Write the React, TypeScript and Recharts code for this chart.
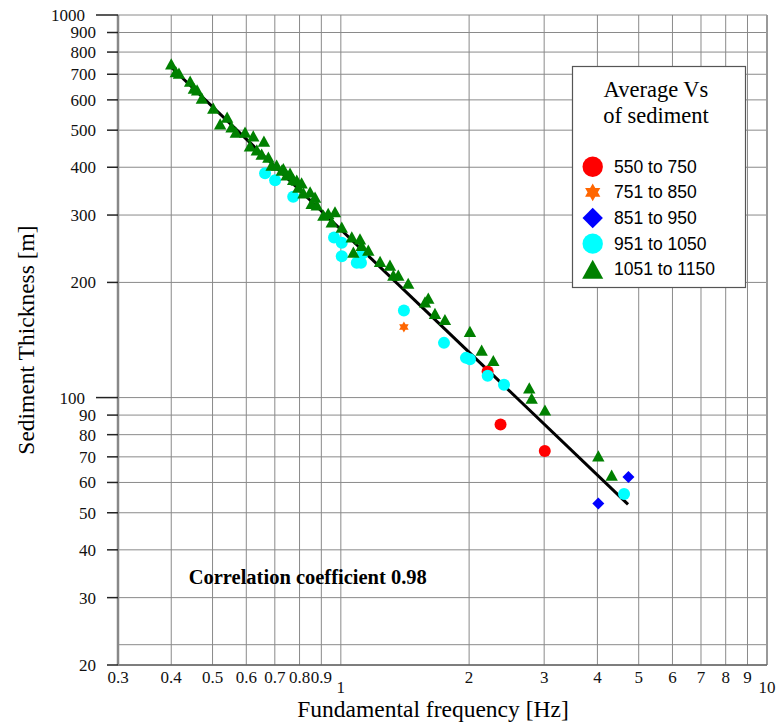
import React from 'react';
import { ScatterChart, Scatter, XAxis, YAxis, CartesianGrid, ReferenceLine } from 'recharts';

// axis ticks (log-log)
const xTicks = [0.3, 0.4, 0.5, 0.6, 0.7, 0.8, 0.9, 1, 2, 3, 4, 5, 6, 7, 8, 9, 10];
const yTicks = [20, 30, 40, 50, 60, 70, 80, 90, 100, 200, 300, 400, 500, 600, 700, 800, 900, 1000];

// f = fundamental frequency [Hz], h = sediment thickness [m]
const redF = [2.21, 2.37, 3.01];
const redH = [117, 85, 72.5];

const orangeF = [1.406];
const orangeH = [153];

const blueF = [4.73, 4.02];
const blueH = [62, 52.9];

const cyanF = [0.664, 0.701, 0.773, 0.964, 1.005, 1.005, 1.09, 1.115, 1.124, 1.406, 1.746, 1.966, 2.009, 2.211, 2.415, 4.62];
const cyanH = [386, 370, 335, 262, 254, 234, 225, 225, 238, 169, 139, 127, 126, 114, 108, 56];

const greenF = [
  0.4, 0.41, 0.417, 0.443, 0.452, 0.46, 0.472, 0.502, 0.521, 0.541, 0.554, 0.567, 0.596, 0.612, 0.623,
  0.635, 0.652, 0.66, 0.676, 0.688, 0.707, 0.727, 0.733, 0.746, 0.76, 0.773, 0.788, 0.809, 0.795, 0.817,
  0.847, 0.854, 0.87, 0.878, 0.91, 0.934, 0.969, 0.952, 1.005, 1.061, 1.109, 1.07, 1.119, 1.16, 1.236,
  1.304, 1.328, 1.364, 1.439, 1.576, 1.604, 1.663, 1.755, 2.009, 2.14, 2.279, 2.768, 2.804, 3.013, 4.02, 4.32,
];
const greenH = [
  745, 711, 705, 672, 644, 637, 606, 571, 519, 541, 510, 494, 494, 455, 483,
  444, 433, 468, 425, 405, 405, 393, 397, 382, 386, 372, 370, 364, 355, 343,
  345, 322, 334, 319, 300, 303, 306, 288, 279, 263, 260, 240, 250, 243, 227,
  222, 209, 209, 199, 178, 182, 166, 160, 149, 133, 125, 106, 99.6, 92.8, 70.4, 62.7,
];

// regression line end points
const fitF = [0.4, 4.72];
const fitH = [730, 52.6];

const seriesNames = ['550 to 750', '751 to 850', '851 to 950', '951 to 1050', '1051 to 1150'];
const seriesKinds = ['circle', 'star', 'diamond', 'circle', 'triangle'];
const seriesColors = ['#ff0000', '#ff6600', '#0000ff', '#00ffff', '#008000'];

const zip = (f: number[], h: number[]) => f.map((v, i) => ({ f: v, h: h[i] }));

const SERIF = '"Liberation Serif", "Times New Roman", serif';
const SANS = '"Liberation Sans", Arial, sans-serif';

const marker = (kind: string, color: string, cx: number, cy: number, s: number) => {
  if (kind === 'circle') return <circle cx={cx} cy={cy} r={6 * s} fill={color} />;
  if (kind === 'diamond') {
    const w = 6 * s;
    return <path d={`M${cx},${cy - w} L${cx + w},${cy} L${cx},${cy + w} L${cx - w},${cy} Z`} fill={color} />;
  }
  if (kind === 'triangle') {
    const w = 6.2 * s;
    const h = 5.6 * s;
    return <path d={`M${cx},${cy - h} L${cx + w},${cy + h} L${cx - w},${cy + h} Z`} fill={color} />;
  }
  // six pointed star
  const pts: string[] = [];
  for (let i = 0; i < 12; i++) {
    const r = i % 2 === 0 ? 5.5 * s : 3.2 * s;
    const a = -Math.PI / 2 + (i * Math.PI) / 6;
    pts.push(`${cx + r * Math.cos(a)},${cy + r * Math.sin(a)}`);
  }
  return <polygon points={pts.join(' ')} fill={color} />;
};

const YTick = (props: any) => {
  const { x, y, payload } = props;
  const major = payload.value === 100 || payload.value === 1000;
  const len = major ? 22 : 11;
  return (
    <g>
      <line x1={x - len} x2={x} y1={y} y2={y} stroke="#222" strokeWidth={1.5} />
      <text x={x - len - 11} y={y} dy="0.35em" textAnchor="end" fontFamily={SERIF} fontSize={17} fill="#111">
        {payload.value}
      </text>
    </g>
  );
};

const XTick = (props: any) => {
  const { x, y, payload } = props;
  const low = payload.value === 1 || payload.value === 10;
  return (
    <text x={x} y={y + (low ? 28 : 18)} textAnchor="middle" fontFamily={SERIF} fontSize={17} fill="#111">
      {payload.value}
    </text>
  );
};

const shapeOf = (i: number) => (p: any) => marker(seriesKinds[i], seriesColors[i], p.cx, p.cy, 1);

export default function App() {
  const series = [zip(redF, redH), zip(orangeF, orangeH), zip(blueF, blueH), zip(cyanF, cyanH), zip(greenF, greenH)];

  return (
    <div style={{ position: 'fixed', left: 0, top: 0, width: 778, height: 725, background: '#fff' }}>
      <ScatterChart width={778} height={725} margin={{ top: 15, right: 11, left: 0, bottom: 0 }}>
        <CartesianGrid stroke="#8a8a8a" strokeWidth={1} />
        <XAxis
          type="number"
          dataKey="f"
          scale="log"
          domain={[0.3, 10]}
          ticks={xTicks}
          interval={0}
          allowDataOverflow
          height={60}
          tickSize={0}
          tickMargin={0}
          tick={<XTick />}
          axisLine={{ stroke: '#666', strokeWidth: 1.5 }}
        />
        <YAxis
          type="number"
          dataKey="h"
          scale="log"
          domain={[20, 1000]}
          ticks={yTicks}
          interval={0}
          allowDataOverflow
          width={118}
          tickSize={0}
          tickMargin={0}
          tick={<YTick />}
          axisLine={{ stroke: '#888', strokeWidth: 2.5 }}
        />
        <ReferenceLine y={22.6} stroke="#8a8a8a" />
        <ReferenceLine x={10} stroke="#999" strokeWidth={2} />
        <Scatter
          data={zip(fitF, fitH)}
          line={{ stroke: '#000', strokeWidth: 3 }}
          shape={() => <g />}
          isAnimationActive={false}
        />
        {series.map((d, i) => (
          <Scatter key={i} name={seriesNames[i]} data={d} shape={shapeOf(i)} isAnimationActive={false} />
        ))}
      </ScatterChart>

      <svg width={778} height={725} style={{ position: 'absolute', left: 0, top: 0, pointerEvents: 'none' }}>
        <text x={188.7} y={584} fontFamily={SERIF} fontWeight="bold" fontSize={20.5} fill="#000">
          Correlation coefficient 0.98
        </text>
        <text x={433} y={717} textAnchor="middle" fontFamily={SERIF} fontSize={23.5} fill="#000">
          Fundamental frequency [Hz]
        </text>
        <text
          transform="translate(33.5,340) rotate(-90)"
          textAnchor="middle"
          fontFamily={SERIF}
          fontSize={23.5}
          fill="#000"
        >
          Sediment Thickness [m]
        </text>

        <g transform="translate(572,66)">
          <rect x={0.5} y={0.5} width={173} height={221} fill="#fff" stroke="#555" strokeWidth={1.2} />
          <text x={84} y={31} textAnchor="middle" fontFamily={SERIF} fontSize={22.5} fill="#000">
            Average Vs
          </text>
          <text x={84} y={57} textAnchor="middle" fontFamily={SERIF} fontSize={22.5} fill="#000">
            of sediment
          </text>
          {seriesNames.map((n, i) => {
            const cy = 100.7 + i * 25.65;
            return (
              <g key={n}>
                {marker(seriesKinds[i], seriesColors[i], 20.7, cy, seriesKinds[i] === 'star' ? 1.6 : 1.7)}
                <text x={42} y={cy} dy="0.35em" fontFamily={SANS} fontSize={17.5} fill="#000">
                  {n}
                </text>
              </g>
            );
          })}
        </g>
      </svg>
    </div>
  );
}
